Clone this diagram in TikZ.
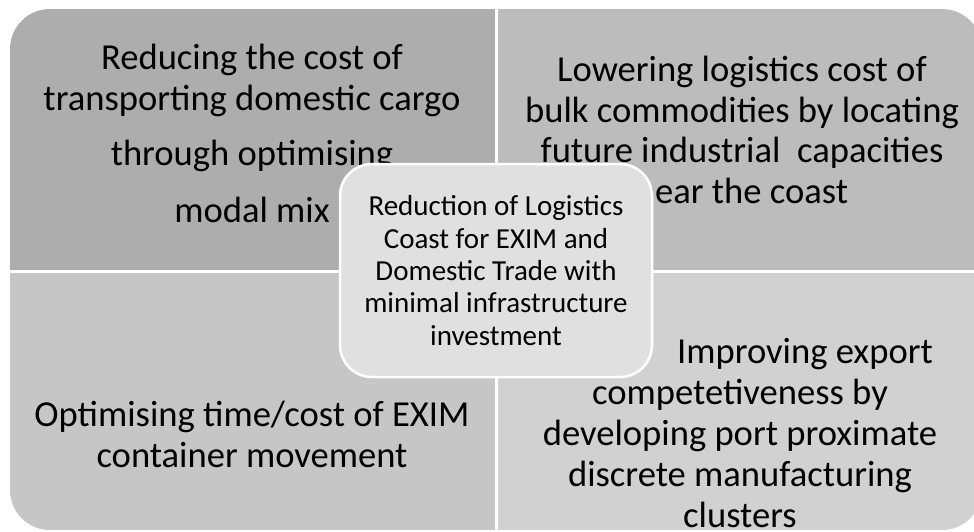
\documentclass[tikz,border=0pt]{standalone}
\usepackage{fontspec}
\setmainfont{Carlito}
\definecolor{tlgray}{HTML}{ADADAD}
\definecolor{trgray}{HTML}{BCBCBC}
\definecolor{blgray}{HTML}{C6C6C6}
\definecolor{brgray}{HTML}{D1D1D1}
\definecolor{hubgray}{HTML}{E0E0E0}
\begin{document}
\begin{tikzpicture}[x=1pt,y=-1pt,
  quadtext/.style={align=center, inner sep=0pt, anchor=base, text=black,
    font=\fontsize{36.6}{40.5}\selectfont},
  hubbox/.style={draw=white, line width=2.5pt, fill=hubgray, rounded corners=32pt,
    minimum width=312pt, minimum height=213pt, align=center, inner sep=0pt,
    text=black, font=\fontsize{29}{32.3}\selectfont}]
\useasboundingbox (0,0) rectangle (974,531);

% four quadrant panels inside one rounded frame
\begin{scope}
  \clip[rounded corners=40pt] (10,9) rectangle (982,530);
  \fill[tlgray] (10,9) rectangle (494.5,269.5);
  \fill[trgray] (497.5,9) rectangle (982,269.5);
  \fill[blgray] (10,272.5) rectangle (494.5,530);
  \fill[brgray] (497.5,272.5) rectangle (982,530);
\end{scope}

% panel texts (anchored at the baseline of their last line)
\node[quadtext] (tl) at (252,222)
  {Reducing the cost of\\transporting domestic cargo\\[15pt]through optimising\\[16pt]modal mix};
\node[quadtext] (tr) at (742,203)
  {Lowering logistics cost of\\bulk commodities by locating\\future industrial~ capacities\\near the coast};
\node[quadtext] (bl) at (252,467)
  {Optimising time/cost of EXIM\\container movement};
\node[quadtext, font=\fontsize{36.6}{41}\selectfont] (br) at (740,527)
  {\hspace*{130pt}Improving export\\competetiveness by\\developing port proximate\\discrete manufacturing\\clusters};

% central goal box, laid over the panel texts
\node[hubbox] (hub) at (496,270.5)
  {Reduction of Logistics\\Coast for EXIM and\\Domestic Trade with\\minimal infrastructure\\investment};
\end{tikzpicture}
\end{document}
